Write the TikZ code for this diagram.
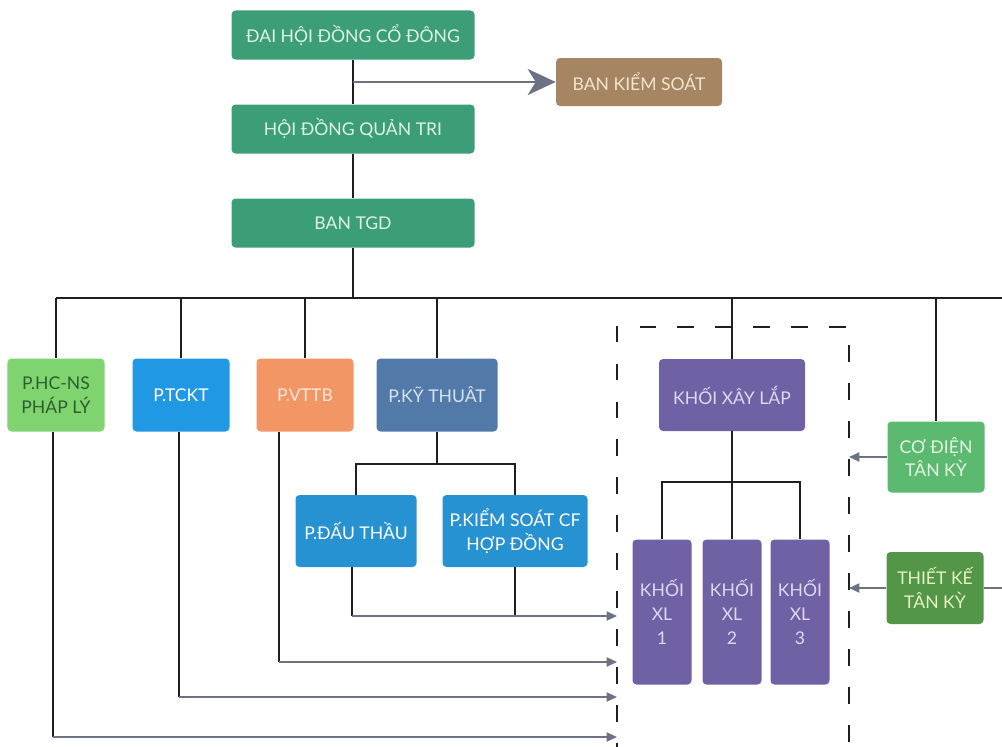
\documentclass[tikz,border=0pt]{standalone}
\usepackage{fontspec}
\setmainfont{Lato}
\usepackage{tikz}
\usetikzlibrary{arrows.meta, positioning}

\definecolor{linecol}{RGB}{30,30,35}
\definecolor{arrowcol}{RGB}{108,114,130}
\definecolor{dhcdgreen}{RGB}{60,158,118}
\definecolor{dhcdtext}{RGB}{222,242,228}
\definecolor{bkstan}{RGB}{166,134,98}
\definecolor{bkstext}{RGB}{242,228,205}
\definecolor{hcgreen}{RGB}{128,212,112}
\definecolor{hctext}{RGB}{45,95,45}
\definecolor{tcblue}{RGB}{32,152,228}
\definecolor{vtorange}{RGB}{242,150,102}
\definecolor{vttext}{RGB}{252,232,218}
\definecolor{ktsteel}{RGB}{82,122,168}
\definecolor{kttext}{RGB}{215,226,242}
\definecolor{dtblue}{RGB}{38,146,210}
\definecolor{khoipurple}{RGB}{112,96,164}
\definecolor{khoitext}{RGB}{222,216,242}
\definecolor{cdgreen}{RGB}{92,186,112}
\definecolor{cdtext}{RGB}{228,246,228}
\definecolor{tkgreen}{RGB}{84,150,72}
\definecolor{tktext}{RGB}{228,242,196}

\tikzstyle{box} = [rectangle, rounded corners=1mm, inner sep=0pt, align=center, font=\fontsize{12.5}{17}\selectfont]
\tikzstyle{topbox} = [box, minimum width=60.75mm, minimum height=12.25mm, fill=dhcdgreen, text=dhcdtext]
\tikzstyle{bksbox} = [box, minimum width=41.5mm, minimum height=12mm, fill=bkstan, text=bkstext]
\tikzstyle{hcbox} = [box, minimum width=24.25mm, minimum height=18.25mm, fill=hcgreen, text=hctext]
\tikzstyle{tcbox} = [box, minimum width=24.25mm, minimum height=18.25mm, fill=tcblue, text=white]
\tikzstyle{vtbox} = [box, minimum width=24.25mm, minimum height=18.25mm, fill=vtorange, text=vttext]
\tikzstyle{ktbox} = [box, minimum width=30.25mm, minimum height=18.25mm, fill=ktsteel, text=kttext]
\tikzstyle{dtbox} = [box, minimum height=18mm, fill=dtblue, text=white]
\tikzstyle{khoibox} = [box, minimum width=36.5mm, minimum height=18mm, fill=khoipurple, text=khoitext]
\tikzstyle{xlbox} = [box, minimum width=14.75mm, minimum height=36.25mm, fill=khoipurple, text=khoitext]
\tikzstyle{cdbox} = [box, minimum width=24.25mm, minimum height=17.75mm, fill=cdgreen, text=cdtext]
\tikzstyle{tkbox} = [box, minimum width=24.25mm, minimum height=18mm, fill=tkgreen, text=tktext]
\tikzstyle{line} = [draw=linecol, line width=1.2pt]
\tikzstyle{thinline} = [draw=linecol, line width=0.9pt]
\tikzstyle{feed} = [draw=arrowcol, line width=1.1pt]
\tikzstyle{arrow} = [feed, -{Triangle[length=2.6mm,width=2.3mm]}]
\tikzstyle{bigarrow} = [draw=arrowcol, line width=2pt, -{Stealth[length=7mm,width=6.5mm,inset=2mm]}]
\tikzstyle{frame} = [draw=linecol, line width=1.2pt, dash pattern=on 12pt off 15pt]

\begin{document}
\begin{tikzpicture}[x=0.25mm, y=-0.25mm]
    \useasboundingbox (0,0) rectangle (1002,746);

    \node (dhcd) [topbox] at (353,35) {ĐAI HỘI ĐỒNG CỔ ĐÔNG};
    \node (hdqt) [topbox] at (353,129) {HỘI ĐỒNG QUẢN TRI};
    \node (tgd) [topbox] at (353,223) {BAN TGD};
    \node (bks) [bksbox] at (639,82) {BAN KIỂM SOÁT};

    \node (hcns) [hcbox] at (56,395) {P.HC-NS\\PHÁP LÝ};
    \node (tckt) [tcbox] at (181,395) {P.TCKT};
    \node (vttb) [vtbox] at (305,395) {P.VTTB};
    \node (kt) [ktbox] at (437,395) {P.KỸ THUÂT};
    \node (dt) [dtbox, minimum width=30.25mm] at (356,531) {P.ĐẤU THẦU};
    \node (ksc) [dtbox, minimum width=36.25mm] at (515,531) {P.KIỂM SOÁT CF\\HỢP ĐỒNG};

    \node (kxl) [khoibox] at (732,395) {KHỐI XÂY LẮP};
    \node (xl1) [xlbox] at (662,612) {KHỐI\\XL\\1};
    \node (xl2) [xlbox] at (732,612) {KHỐI\\XL\\2};
    \node (xl3) [xlbox] at (800,612) {KHỐI\\XL\\3};

    \node (cd) [cdbox] at (936,457) {CƠ ĐIỆN\\TÂN KỲ};
    \node (tk) [tkbox] at (935,588) {THIẾT KẾ\\TÂN KỲ};

    % junctions and the ends at the dashed frame
    \coordinate (bus) at (353,298);
    \coordinate (busR) at (1002,298);
    \coordinate (ktbus) at (437,464);
    \coordinate (xlbus) at (732,482);
    \coordinate (frBL) at (617,760);
    \coordinate (frTR) at (849,327);
    \coordinate (frBR) at (849,760);
    \coordinate (in1) at (617,616);
    \coordinate (in2) at (617,662);
    \coordinate (in3) at (617,697);
    \coordinate (in4) at (617,737);
    \coordinate (in5) at (849,457);
    \coordinate (in6) at (849,588);
    \coordinate (edgeR) at (1002,588);

    \draw [frame] (frBL) |- (frTR) -- (frBR);

    \draw [line] (dhcd) -- (hdqt);
    \draw [line] (hdqt) -- (tgd);
    \draw [line] (tgd) -- (bus);
    \draw [bigarrow] (dhcd |- bks) -- (bks);

    \draw [line] (hcns |- bus) -- (busR);
    \foreach \n in {hcns, tckt, vttb, kt, kxl, cd}
        \draw [line] (\n |- bus) -- (\n);

    \draw [thinline] (kt) -- (ktbus);
    \draw [thinline] (dt.north) |- (ktbus) -| (ksc.north);
    \draw [thinline] (kxl) -- (xlbus);
    \draw [thinline] (xl1.north) |- (xlbus) -| (xl3.north);
    \draw [thinline] (xl2) -- (xl2 |- xlbus);

    \draw [thinline] ([xshift=-1mm]dt.south) -- ([xshift=-1mm]dt.south |- in1);
    \draw [thinline] (ksc.south) -- (ksc.south |- in1);
    \draw [arrow] ([xshift=-1mm]dt.south |- in1) -- (in1);
    \draw [line] ([xshift=-6.5mm]vttb.south) -- ([xshift=-6.5mm]vttb.south |- in2);
    \draw [arrow] ([xshift=-6.5mm]vttb.south |- in2) -- (in2);
    \draw [line] ([xshift=-0.5mm]tckt.south) -- ([xshift=-0.5mm]tckt.south |- in3);
    \draw [arrow] ([xshift=-0.5mm]tckt.south |- in3) -- (in3);
    \draw [line] ([xshift=-0.75mm]hcns.south) -- ([xshift=-0.75mm]hcns.south |- in4);
    \draw [arrow] ([xshift=-0.75mm]hcns.south |- in4) -- (in4);

    \draw [arrow] (cd) -- (in5);
    \draw [arrow] (tk) -- (in6);
    \draw [feed] (tk) -- (edgeR);
\end{tikzpicture}
\end{document}
